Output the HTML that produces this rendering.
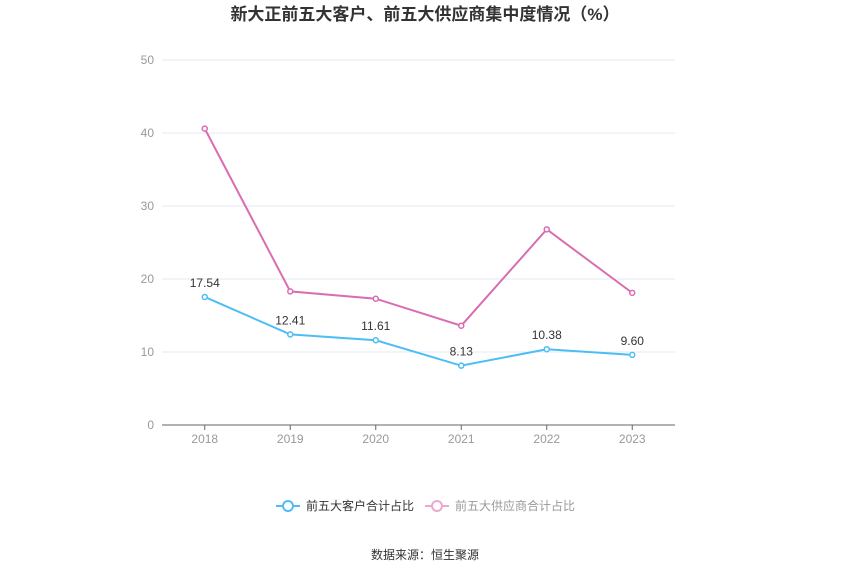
<!DOCTYPE html>
<html><head><meta charset="utf-8">
<style>
body{margin:0;background:#fff;width:850px;height:575px;overflow:hidden;font-family:"Liberation Sans","Noto Sans CJK SC",sans-serif;}
svg text{font-family:"Liberation Sans","Noto Sans CJK SC",sans-serif;}
</style></head>
<body>
<svg id="chart" width="850" height="575">
<text x="425" y="20" text-anchor="middle" font-size="17" font-weight="bold" fill="#333">新大正前五大客户、前五大供应商集中度情况（%）</text>
<g id="grid"></g>
<g id="xaxis"></g>
<g id="series"></g>
<g>
<g>
<line x1="276" y1="506" x2="300" y2="506" stroke="#4dbdf5" stroke-width="2"/>
<circle cx="288" cy="506" r="5" fill="#fff" stroke="#4dbdf5" stroke-width="2"/>
<text x="306" y="510" font-size="12" fill="#333">前五大客户合计占比</text></g>
<g>
<line x1="425" y1="506" x2="449" y2="506" stroke="#e9a9d0" stroke-width="2"/>
<circle cx="437" cy="506" r="5" fill="#fff" stroke="#e9a9d0" stroke-width="2"/>
<text x="455" y="510" font-size="12" fill="#999">前五大供应商合计占比</text></g>
</g>
<text x="425" y="559" text-anchor="middle" font-size="12" fill="#333">数据来源：恒生聚源</text>
</svg>
<script>
const categories=["2018","2019","2020","2021","2022","2023"];
const customers=[17.54,12.41,11.61,8.13,10.38,9.60];
const suppliers=[40.6,18.3,17.3,13.6,26.8,18.1];
const yTicks=[0,10,20,30,40,50];
const L=162,R=675,T=60,B=425,yMax=50;
const NS="http://www.w3.org/2000/svg";
function xs(i){return L+(R-L)/categories.length*(i+0.5);}
function ys(v){return B-(B-T)*v/yMax;}
function mk(tag,attrs,parent){const e=document.createElementNS(NS,tag);for(const k in attrs)e.setAttribute(k,attrs[k]);parent.appendChild(e);return e;}
const grid=document.getElementById('grid'),xa=document.getElementById('xaxis'),ser=document.getElementById('series');
yTicks.forEach(t=>{
 const y=ys(t);
 if(t>0){const l=mk('line',{x1:L,x2:R,y1:y,y2:y,stroke:'#e3e8f0','stroke-width':1},grid);
 
 }
 const tx=mk('text',{x:L-8,y:y+4,'text-anchor':'end','font-size':12,fill:'#999'},grid);
 tx.textContent=t;
 
 
});
const ax=mk('line',{x1:L,x2:R,y1:B,y2:B,stroke:'#666','stroke-width':1},xa);


categories.forEach((c,i)=>{
 const t=mk('line',{x1:xs(i),x2:xs(i),y1:B,y2:B+5,stroke:'#666'},xa);
 
 
 const tx=mk('text',{x:xs(i),y:B+18,'text-anchor':'middle','font-size':12,fill:'#999'},xa);
 tx.textContent=c;
 
 
});
function drawSeries(vals,color,name,labels){
 const p=mk('polyline',{points:vals.map((v,i)=>xs(i)+','+ys(v)).join(' '),fill:'none',stroke:color,'stroke-width':2},ser);
 
 
 vals.forEach((v,i)=>{
  const c=mk('circle',{cx:xs(i),cy:ys(v),r:2.5,fill:'#fff',stroke:color,'stroke-width':1.5},ser);
  
  
  if(labels){const t=mk('text',{x:xs(i),y:ys(v)-10,'text-anchor':'middle','font-size':12,fill:'#333'},ser);
   t.textContent=v.toFixed(2);
   
   }
 });
}
drawSeries(suppliers,'#d96db0','suppliers',false);
drawSeries(customers,'#4dbdf5','customers',true);
</script>
</body></html>
